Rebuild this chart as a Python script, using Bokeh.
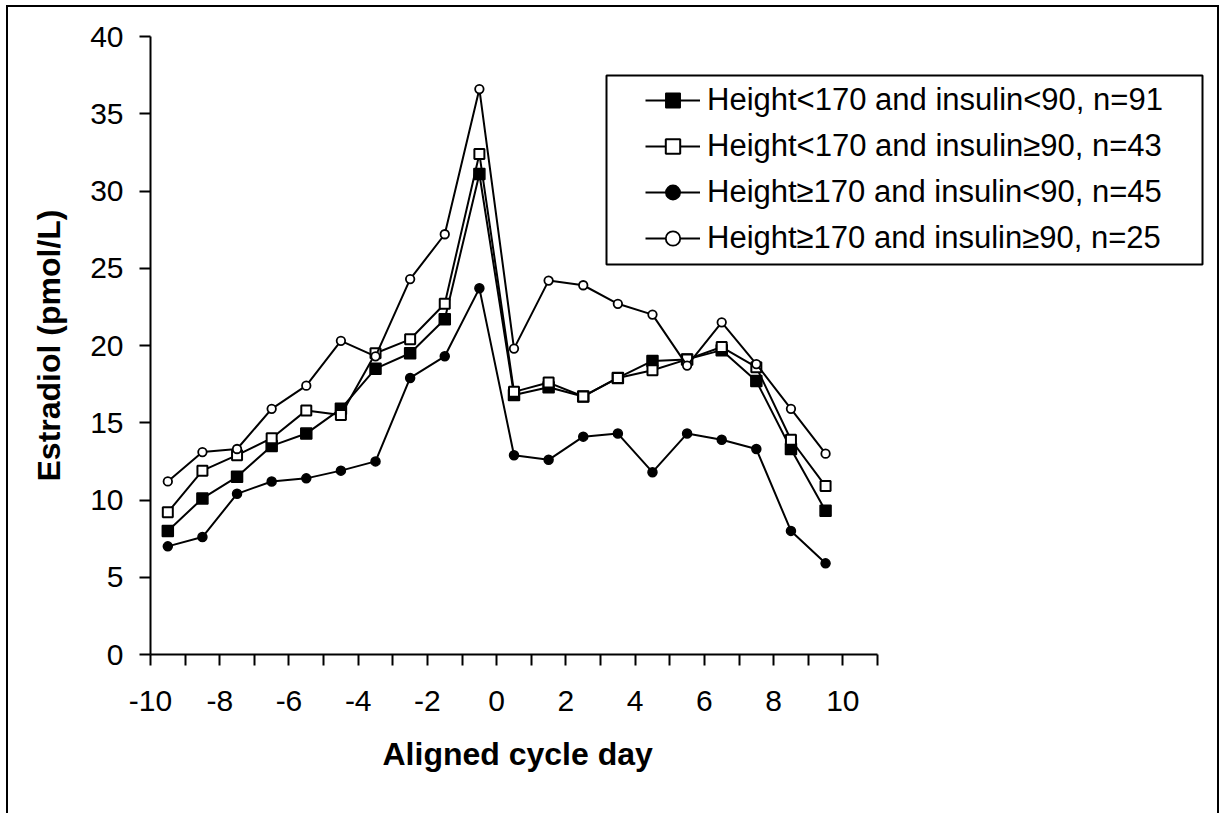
from bokeh.plotting import figure
from bokeh.models import Range1d, FixedTicker, Legend, LegendItem, BoxAnnotation, Title
from bokeh.embed import file_html
from bokeh.resources import INLINE

# ---- data ----
days = [-9.5, -8.5, -7.5, -6.5, -5.5, -4.5, -3.5, -2.5, -1.5, -0.5,
        0.5, 1.5, 2.5, 3.5, 4.5, 5.5, 6.5, 7.5, 8.5, 9.5]

labels = [
    "Height<170 and insulin<90, n=91",
    "Height<170 and insulin\u226590, n=43",
    "Height\u2265170 and insulin<90, n=45",
    "Height\u2265170 and insulin\u226590, n=25",
]

est_short_lowins = [8.0, 10.1, 11.5, 13.5, 14.3, 15.9, 18.5, 19.5, 21.7, 31.1,
                    16.8, 17.3, 16.7, 17.9, 19.0, 19.1, 19.7, 17.7, 13.3, 9.3]
est_short_highins = [9.2, 11.9, 12.9, 14.0, 15.8, 15.5, 19.5, 20.4, 22.7, 32.4,
                     17.0, 17.6, 16.7, 17.9, 18.4, 19.1, 19.9, 18.6, 13.9, 10.9]
est_tall_lowins = [7.0, 7.6, 10.4, 11.2, 11.4, 11.9, 12.5, 17.9, 19.3, 23.7,
                   12.9, 12.6, 14.1, 14.3, 11.8, 14.3, 13.9, 13.3, 8.0, 5.9]
est_tall_highins = [11.2, 13.1, 13.3, 15.9, 17.4, 20.3, 19.3, 24.3, 27.2, 36.6,
                    19.8, 24.2, 23.9, 22.7, 22.0, 18.7, 21.5, 18.8, 15.9, 13.0]

x_tick_values = [-10, -8, -6, -4, -2, 0, 2, 4, 6, 8, 10]
x_tick_labels = ["-10", "-8", "-6", "-4", "-2", "0", "2", "4", "6", "8", "10"]
x_minor_ticks = [-9, -7, -5, -3, -1, 1, 3, 5, 7, 9, 11]
y_tick_values = [0, 5, 10, 15, 20, 25, 30, 35, 40]
x_axis_bounds = (-10, 11)
y_axis_bounds = (0, 40)

FONT = "Liberation Sans"

# frame geometry: the axis span (-10..11) occupies 727 px; the frame is
# widened to the right so the legend (which overlaps the plot) is not clipped
AXIS_PX = 727
FRAME_W = 1058
FRAME_H = 618
x_end = x_axis_bounds[0] + (x_axis_bounds[1] - x_axis_bounds[0]) * FRAME_W / AXIS_PX

p = figure(frame_width=FRAME_W, frame_height=FRAME_H,
           x_range=Range1d(x_axis_bounds[0], x_end), y_range=Range1d(*y_axis_bounds),
           output_backend="svg", toolbar_location=None,
           min_border_left=142, min_border_right=9,
           min_border_top=29, min_border_bottom=159,
           styles={"margin-left": "6px", "margin-top": "5px",
                   "border-left": "2px solid black",
                   "border-top": "2px solid black",
                   "border-right": "2px solid black"})
p.outline_line_color = None
p.xgrid.visible = False
p.ygrid.visible = False
p.background_fill_color = "white"
p.border_fill_color = "white"

styles = [
    dict(marker="square", size=11, fill_color="black", line_width=1.5),
    dict(marker="square", size=10, fill_color="white", line_width=2),
    dict(marker="circle", size=9, fill_color="black", line_width=1.5),
    dict(marker="circle", size=8.5, fill_color="white", line_width=1.8),
]
series = [est_short_lowins, est_short_highins, est_tall_lowins, est_tall_highins]

items = []
for lab, ys, st in zip(labels, series, styles):
    ln = p.line(days, ys, line_color="black", line_width=2)
    mk = p.scatter(days, ys, marker=st["marker"], size=st["size"],
                   fill_color=st["fill_color"], line_color="black",
                   line_width=st["line_width"])
    items.append(LegendItem(label=lab, renderers=[ln, mk]))

legend = Legend(items=items, location=(495, 398), padding=10, spacing=10, margin=0,
                glyph_width=55, glyph_height=36, label_height=36, label_standoff=7,
                label_text_font=FONT, label_text_font_size="31px",
                label_text_color="black",
                border_line_color=None, background_fill_alpha=0)
p.add_layout(legend)

legend_box = BoxAnnotation(left=596, right=1192, top=66, bottom=255,
                           left_units="canvas", right_units="canvas",
                           top_units="canvas", bottom_units="canvas",
                           fill_color=None, fill_alpha=0,
                           line_color="black", line_alpha=1, line_width=2)
p.add_layout(legend_box)

# axes
p.xaxis.ticker = FixedTicker(ticks=x_tick_values, minor_ticks=x_minor_ticks)
p.xaxis.major_label_overrides = {v: t for v, t in zip(x_tick_values, x_tick_labels)}
p.xaxis.bounds = x_axis_bounds
p.yaxis.ticker = FixedTicker(ticks=y_tick_values, minor_ticks=[])
p.yaxis.bounds = y_axis_bounds

for ax in (p.xaxis[0], p.yaxis[0]):
    ax.axis_line_width = 2
    ax.axis_line_color = "black"
    ax.major_tick_line_width = 2
    ax.major_tick_line_color = "black"
    ax.minor_tick_line_width = 2
    ax.minor_tick_line_color = "black"
    ax.major_tick_out = 11
    ax.major_tick_in = 0
    ax.minor_tick_out = 11
    ax.minor_tick_in = 0
    ax.major_label_text_font = FONT
    ax.major_label_text_font_size = "30px"
    ax.major_label_text_color = "black"
    ax.axis_label_text_font = FONT
    ax.axis_label_text_font_size = "32px"
    ax.axis_label_text_font_style = "bold"
    ax.axis_label_text_color = "black"

p.yaxis.minor_tick_line_color = None
p.yaxis.axis_label = "Estradiol (pmol/L)"
p.xaxis.major_label_standoff = 25
p.yaxis.major_label_standoff = 16
p.yaxis.axis_label_standoff = 20

x_title = Title(text="Aligned cycle day", align="left", offset=232, standoff=40,
                text_font=FONT, text_font_size="32px", text_font_style="bold",
                text_color="black")
p.add_layout(x_title, "below")

open("out.html", "w").write(file_html(p, INLINE))
